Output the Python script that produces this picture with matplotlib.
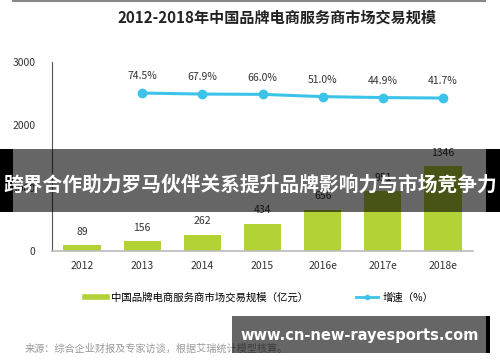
import matplotlib.pyplot as plt
from matplotlib.patches import Rectangle
from matplotlib.lines import Line2D

plt.rcParams['font.family'] = ['Noto Sans CJK SC', 'DejaVu Sans']

years = ['2012', '2013', '2014', '2015', '2016e', '2017e', '2018e']
scale = [89, 156, 262, 434, 656, 951, 1346]
growth_years = years[1:]
growth = [74.5, 67.9, 66.0, 51.0, 44.9, 41.7]

bar_color = '#b3d236'
line_color = '#3cc3ea'
text_color = '#333333'

fig = plt.figure(figsize=(5, 3.62), dpi=100)
ax = fig.add_axes([0.104, 0.3066, 0.842, 0.522])

xs = list(range(len(years)))
ax.bar(xs, scale, width=0.62, color=bar_color, zorder=2)
for x, v in zip(xs, scale):
    ax.annotate(str(v), (x, v), xytext=(0, 6), textcoords='offset points',
                ha='center', va='bottom', fontsize=7.5, color=text_color)

ax.set_xlim(-0.5, 6.5)
ax.set_ylim(0, 3000)
ax.set_yticks([0, 1000, 2000, 3000])
ax.set_xticks(xs)
ax.set_xticklabels(years)
ax.tick_params(axis='both', length=0, labelsize=7.5, labelcolor=text_color)
ax.tick_params(axis='y', pad=12)
ax.tick_params(axis='x', pad=7)
for s in ['top', 'right']:
    ax.spines[s].set_visible(False)
ax.spines['left'].set_color('#555555')
ax.spines['left'].set_linewidth(0.8)
ax.spines['bottom'].set_color('#bbbbbb')
ax.spines['bottom'].set_linewidth(1.2)

ax2 = ax.twinx()
gx = [years.index(y) for y in growth_years]
ax2.plot(gx, growth, color=line_color, lw=2.2, marker='o', markersize=6, zorder=3)
ax2.set_ylim(-962, 278)
ax2.axis('off')
for x, v in zip(gx, growth):
    ax2.annotate(f'{v:.1f}%', (x, v), xytext=(0, 12), textcoords='offset points',
                 ha='center', va='center', fontsize=7.5, color=text_color)

fig.text(0.555, 0.952, '2012-2018年中国品牌电商服务商市场交易规模', ha='center', va='center',
         fontsize=10.9, fontweight='bold', color='#222222')
fig.add_artist(Line2D([0.026, 0.97], [0.997, 0.997], color='#888888', lw=1.5))

handles = [Line2D([], [], color=bar_color, lw=4),
           Line2D([], [], color=line_color, lw=2, marker='o', markersize=3)]
fig.legend(handles, ['中国品牌电商服务商市场交易规模（亿元）', '增速（%）'],
           loc='center', bbox_to_anchor=(0.518, 0.178), ncol=2, frameon=False,
           fontsize=7.5, columnspacing=4.6, handlelength=2.1, handletextpad=0.4)

fig.text(0.05, 0.038, '来源：综合企业财报及专家访谈，根据艾瑞统计模型核算。', ha='left', va='center',
         fontsize=7.3, color='#999999')

# overlay banner
fig.add_artist(Rectangle((0, 0.414), 1, 0.174, transform=fig.transFigure,
                         color='black', alpha=0.6, lw=0, zorder=5))
fig.add_artist(Rectangle((0, 0.414), 0.026, 0.174, transform=fig.transFigure,
                         color='black', lw=0, zorder=5))
fig.add_artist(Rectangle((0.972, 0.414), 0.028, 0.174, transform=fig.transFigure,
                         color='black', lw=0, zorder=5))
fig.text(0.5, 0.49, '跨界合作助力罗马伙伴关系提升品牌影响力与市场竞争力', ha='center', va='center',
         fontsize=14.2, fontweight='bold', color='white', zorder=6)

# watermark box
fig.add_artist(Rectangle((0.464, 0.025), 0.508, 0.102, transform=fig.transFigure,
                         color='black', alpha=0.6, lw=0, zorder=5))
fig.add_artist(Rectangle((0.972, 0.025), 0.008, 0.102, transform=fig.transFigure,
                         color='black', lw=0, zorder=5))
fig.text(0.72, 0.072, 'www.cn-new-rayesports.com', ha='center', va='center',
         fontsize=10.5, fontweight='bold', color='white', family='DejaVu Sans', zorder=6)

fig.savefig('out.png', dpi=100)
